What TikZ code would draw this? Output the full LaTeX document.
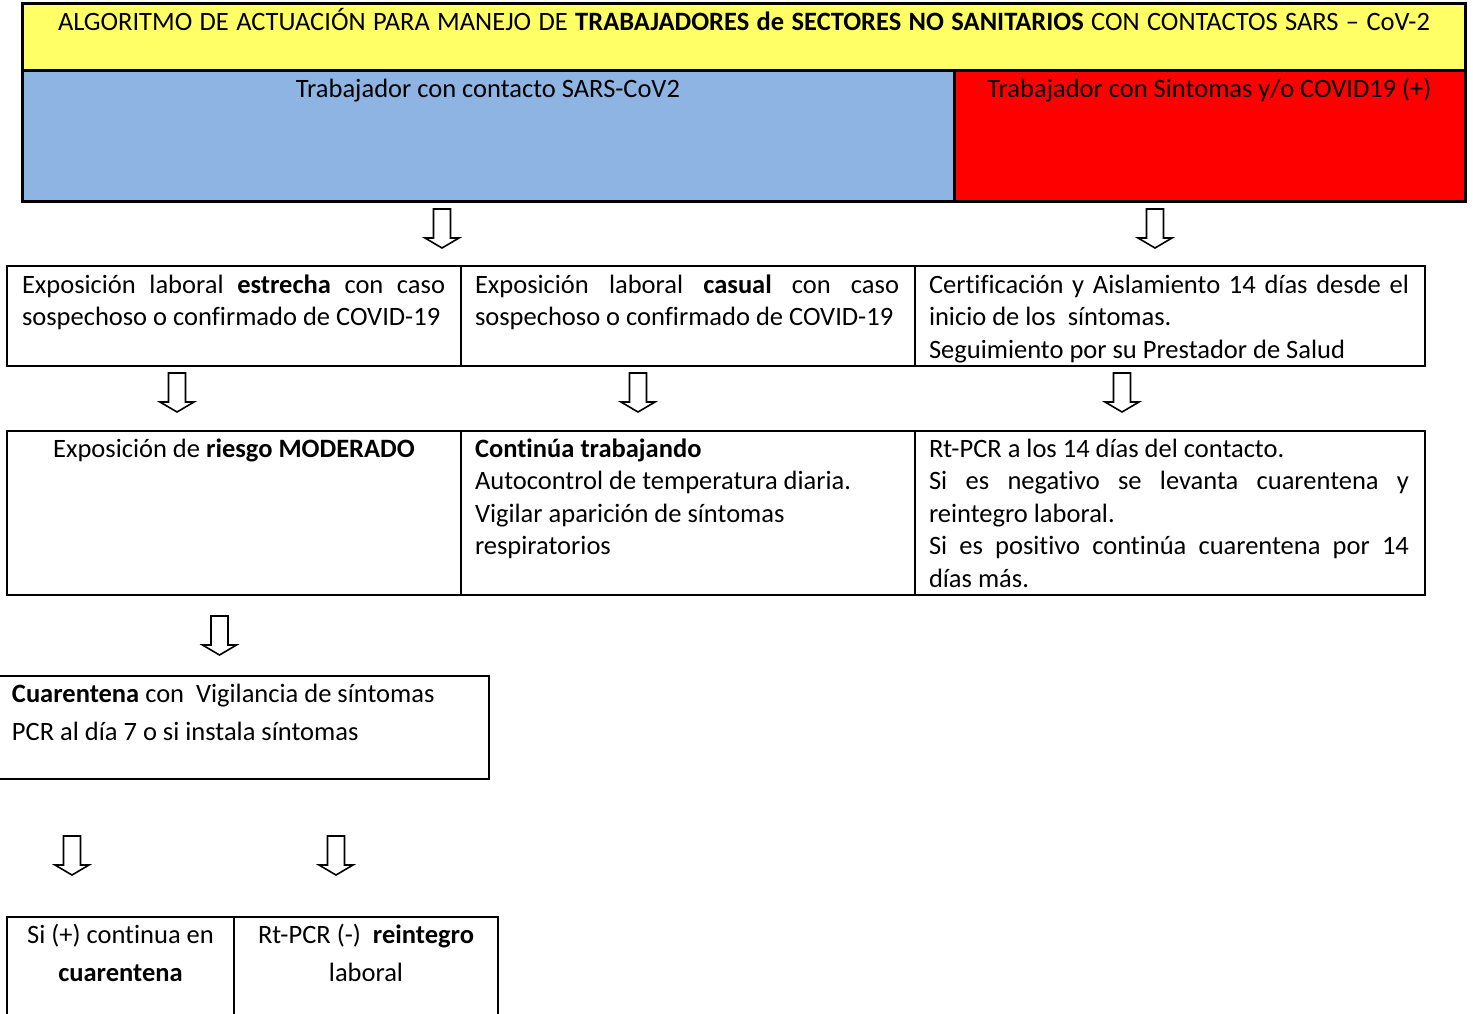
\documentclass[tikz,border=0pt]{standalone}
\usepackage{fontspec}
\setmainfont{Carlito}[Ligatures=NoCommon]
\definecolor{titleyellow}{RGB}{255,255,102}
\definecolor{softblue}{RGB}{142,180,227}
\definecolor{alertred}{RGB}{255,0,0}
\tikzset{
  cell/.style={draw=black, line width=2, outer sep=0, inner sep=0, anchor=north west},
  headcell/.style={cell, line width=3},
  txt/.style={inner sep=0, outer sep=0, align=left, anchor=north west},
  ctxt/.style={inner sep=0, outer sep=0, anchor=base},
  arrowline/.style={draw=black, fill=white, line width=1.6, line join=miter},
  downarrow/.pic={\path[arrowline] (-8.5,0) -- (8.5,0) -- (8.5,29) -- (17,29) -- (0,39) -- (-17,29) -- (-8.5,29) -- cycle;}
}
\newcommand{\jl}[2]{\makebox[#1pt][s]{#2}}
\begin{document}
\begin{tikzpicture}[x=1pt, y=-1pt, every node/.style={font=\fontsize{26.5}{32.5}\selectfont}]
\useasboundingbox (0,0) rectangle (1473,1014);
\fill[white] (0,0) rectangle (1473,1014);

% header
\node[headcell, fill=titleyellow, minimum width=1443, minimum height=67] (title) at (22,4) {};
\node[headcell, fill=softblue, minimum width=932, minimum height=130] (blue) at (22,71) {};
\node[headcell, fill=alertred, minimum width=511, minimum height=130] (red) at (954,71) {};
\node[ctxt] (titletxt) at (744,31) {\jl{1372}{ALGORITMO DE ACTUACIÓN PARA MANEJO DE \textbf{TRABAJADORES de SECTORES NO SANITARIOS} CON CONTACTOS SARS – CoV-2}};
\node[ctxt] (bluetxt) at (488,98) {Trabajador con contacto SARS-CoV2};
\node[ctxt] (redtxt) at (1209.5,98) {Trabajador con Sintomas y/o COVID19 (+)};

% row 1
\node[cell, minimum width=454, minimum height=100] (r1a) at (7,266) {};
\node[cell, minimum width=454, minimum height=100] (r1b) at (461,266) {};
\node[cell, minimum width=510, minimum height=100] (r1c) at (915,266) {};
\node[txt] (t1a) at (22,270.25) {\strut\jl{423}{Exposición laboral \textbf{estrecha} con caso}\\sospechoso o confirmado de COVID-19};
\node[txt] (t1b) at (475,270.25) {\strut\jl{424}{Exposición laboral \textbf{casual} con caso}\\sospechoso o confirmado de COVID-19};
\node[txt] (t1c) at (929,270.25) {\strut\jl{480}{Certificación y Aislamiento 14 días desde el}\\inicio de los\ \ síntomas.\\Seguimiento por su Prestador de Salud};

% row 2
\node[cell, minimum width=454, minimum height=164] (r2a) at (7,431) {};
\node[cell, minimum width=454, minimum height=164] (r2b) at (461,431) {};
\node[cell, minimum width=510, minimum height=164] (r2c) at (915,431) {};
\node[ctxt] (t2a) at (234,457) {Exposición de \textbf{riesgo MODERADO}};
\node[txt] (t2b) at (475,434.25) {\strut\textbf{Continúa trabajando}\\Autocontrol de temperatura diaria.\\Vigilar aparición de síntomas\\respiratorios};
\node[txt] (t2c) at (929,434.25) {\strut Rt-PCR a los 14 días del contacto.\\\jl{480}{Si es negativo se levanta cuarentena y}\\reintegro laboral.\\\jl{480}{Si es positivo continúa cuarentena por 14}\\días más.};

% quarantine box
\node[cell, minimum width=499, minimum height=103] (cq) at (-10,676) {};
\node[ctxt, anchor=base west] (tcq1) at (12,702) {\textbf{Cuarentena} con\ \ Vigilancia de síntomas};
\node[ctxt, anchor=base west] (tcq2) at (12,740) {PCR al día 7 o si instala síntomas};

% bottom boxes
\node[cell, minimum width=227, minimum height=130] (b1) at (7,917) {};
\node[cell, minimum width=264, minimum height=130] (b2) at (234,917) {};
\node[ctxt] (tb1a) at (120.5,943) {Si (+) continua en};
\node[ctxt] (tb1b) at (120.5,981) {\textbf{cuarentena}};
\node[ctxt] (tb2a) at (366,943) {Rt-PCR (-)\ \ \textbf{reintegro}};
\node[ctxt] (tb2b) at (366,981) {laboral};

% block arrows
\pic (a1) at (442,209) {downarrow};
\pic (a2) at (1155,209) {downarrow};
\pic (a3) at (177,373) {downarrow};
\pic (a4) at (638,373) {downarrow};
\pic (a5) at (1122,373) {downarrow};
\pic (a6) at (219.5,616) {downarrow};
\pic (a7) at (72,836) {downarrow};
\pic (a8) at (336,836) {downarrow};
\end{tikzpicture}
\end{document}
